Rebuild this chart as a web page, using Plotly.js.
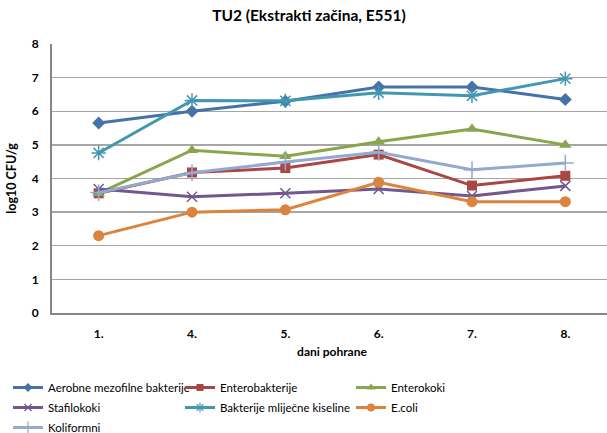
<!DOCTYPE html>
<html><head><meta charset="utf-8">
<script src="https://cdn.plot.ly/plotly-3.0.1.min.js"></script>
<style>html,body{margin:0;padding:0;overflow:hidden;background:#fff}#chart{width:612px;height:433px}</style>
</head><body><div id="chart"></div>
<script>
const categories = ["1.", "4.", "5.", "6.", "7.", "8."];
const aerobne = [5.65, 6.0, 6.3, 6.72, 6.72, 6.35];
const enterobakterije = [3.56, 4.18, 4.31, 4.71, 3.79, 4.08];
const enterokoki = [3.56, 4.84, 4.66, 5.09, 5.47, 5.0];
const stafilokoki = [3.69, 3.46, 3.56, 3.69, 3.48, 3.78];
const bakterijeMK = [4.76, 6.32, 6.31, 6.55, 6.46, 6.97];
const ecoli = [2.3, 3.0, 3.07, 3.89, 3.31, 3.31];
const koliformni = [3.58, 4.17, 4.49, 4.78, 4.26, 4.46];
const seriesNames = ["Aerobne mezofilne bakterije", "Enterobakterije", "Enterokoki", "Stafilokoki", "Bakterije mliječne kiseline", "E.coli", "Koliformni"];
const seriesData = [aerobne, enterobakterije, enterokoki, stafilokoki, bakterijeMK, ecoli, koliformni];
const colors = ["#4572A7", "#AA4643", "#89A54E", "#71588F", "#4198AF", "#DB843D", "#93A9CF"];
const symbols = ["diamond", "square", "triangle-up", "x-thin-open", "asterisk-open", "circle", "cross-thin-open"];
const sizes = [10, 10, 11, 10, 12, 11, 12];
const legendSizes = [7, 7, 8, 7, 8, 8, 9];
const legendColumn = ["legend", "legend2", "legend3", "legend", "legend2", "legend3", "legend"];

const traces = [];
seriesData.forEach((d, i) => {
  const lineSym = symbols[i].indexOf("open") >= 0;
  traces.push({
    type: "scatter", mode: "lines+markers", name: seriesNames[i], showlegend: false,
    x: categories, y: d,
    line: {color: colors[i], width: 3},
    marker: {symbol: symbols[i], size: sizes[i], color: colors[i],
             line: {color: colors[i], width: lineSym ? 1.5 : 0}}
  });
});
seriesData.forEach((d, i) => {
  const lineSym = symbols[i].indexOf("open") >= 0;
  traces.push({
    type: "scatter", mode: "lines+markers", name: seriesNames[i], showlegend: true,
    legend: legendColumn[i], legendgroup: "g" + i,
    x: [null], y: [null],
    line: {color: colors[i], width: 3},
    marker: {symbol: symbols[i], size: legendSizes[i], color: colors[i],
             line: {color: colors[i], width: lineSym ? 1.2 : 0}}
  });
});

const font = "Lato, 'Open Sans', sans-serif";
const legFont = {family: font, size: 11.5, color: "#000"};
function leg(px) {
  return {orientation: "v", x: (px - 52) / 560, xref: "paper", xanchor: "left",
          y: 1 - 373/433, yref: "container", yanchor: "top",
          traceorder: "grouped", tracegroupgap: 1, font: legFont, bgcolor: "rgba(0,0,0,0)"};
}
const layout = {
  width: 612, height: 433,
  margin: {l: 52, r: 0, t: 44, b: 120.3},
  paper_bgcolor: "#fff", plot_bgcolor: "#fff",
  font: {family: font, color: "#000", size: 11},
  title: {text: "<b>TU2 (Ekstrakti začina, E551)</b>", font: {family: font, size: 15.5, color: "#000"},
          x: 309/612, xref: "container", xanchor: "center", y: 1 - 16/433, yref: "container", yanchor: "middle"},
  showlegend: true,
  legend: leg(8), legend2: leg(180), legend3: leg(351),
  xaxis: {type: "category", range: [-0.5, 5.5], showgrid: false, showline: true,
          linecolor: "#868686", linewidth: 2, ticks: "", zeroline: false, ticklabelstandoff: 9,
          tickfont: {family: font, size: 12, color: "#000", weight: "bold"},
          title: {text: "<b>dani pohrane</b>", font: {family: font, size: 12, color: "#000"}, standoff: 7}},
  yaxis: {range: [0, 8], dtick: 1, showgrid: true, gridcolor: "#a6a6a6", gridwidth: 1.3,
          showline: true, linecolor: "#868686", linewidth: 2, zeroline: false, ticks: "", ticklabelstandoff: 9,
          tickfont: {family: font, size: 12, color: "#000", weight: "bold"},
          title: {text: "<b>log10 CFU/g</b>", font: {family: font, size: 12.5, color: "#000"}, standoff: 12}}
};
Plotly.newPlot("chart", traces, layout, {displayModeBar: false, staticPlot: true});
</script></body></html>
